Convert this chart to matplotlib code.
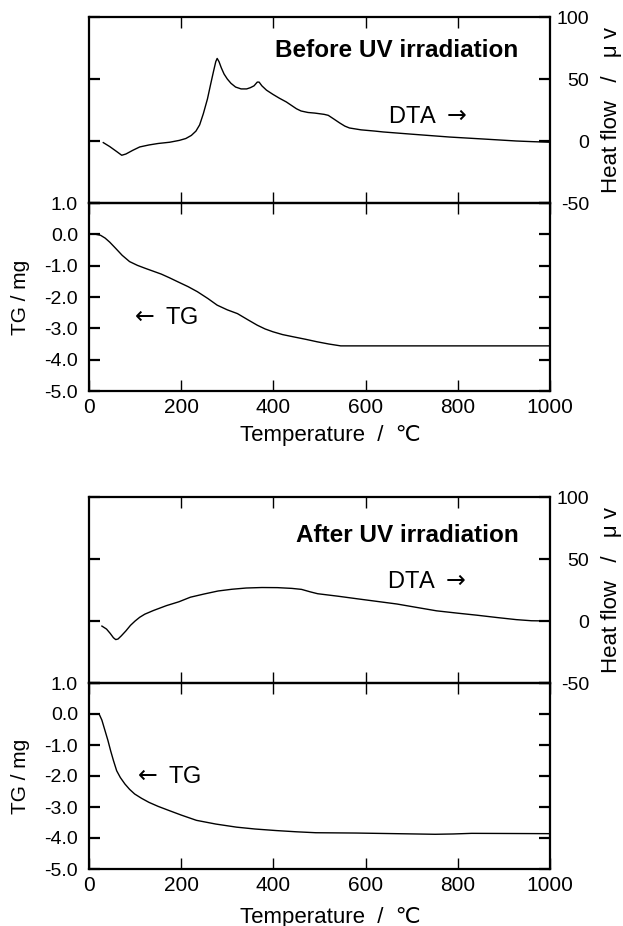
import numpy as np
import matplotlib
matplotlib.use("Agg")
import matplotlib.pyplot as plt

plt.rcParams["font.family"] = ["Liberation Sans", "DejaVu Sans"]
plt.rcParams["axes.unicode_minus"] = False

# before UV irradiation
before_dta_t = [31, 45, 60, 71, 80, 95, 110, 130, 150, 175, 196, 210, 222, 232,
                240, 248, 257, 264, 270, 275, 278, 282, 287, 293, 300, 308, 318,
                330, 342, 350, 358, 365, 369, 375, 385, 399, 413, 428, 440, 450,
                460, 475, 490, 500, 510, 519, 530, 544, 555, 565, 590, 620, 638,
                700, 782, 860, 927, 960, 984, 1000]
before_dta = [-1.3, -4.5, -8.5, -11.5, -10.5, -7.5, -4.8, -3.2, -2, -1, 0.5, 2,
              4.5, 8, 13, 22, 34, 46, 56, 64, 66.6, 64, 59, 54, 50, 46.5, 43.5,
              42, 42, 43, 44.5, 47.5, 47.5, 44.5, 41, 37.6, 34.5, 31.5, 28.5, 26,
              24.2, 23, 22.5, 22, 21.5, 20.7, 18, 14.5, 12, 10.5, 9, 8, 7.3, 5.5,
              3.2, 1.5, 0, -0.5, -0.8, -1.0]
before_tg_t = [15, 25, 35, 45, 58, 72, 88, 105, 123, 140, 157, 175, 192, 215,
               235, 258, 278, 300, 322, 345, 365, 382, 399, 420, 443, 470, 495,
               520, 546, 700, 1000]
before_tg = [0, -0.03, -0.12, -0.25, -0.45, -0.67, -0.87, -0.99, -1.09, -1.18,
             -1.27, -1.39, -1.51, -1.67, -1.83, -2.05, -2.26, -2.41, -2.53, -2.73,
             -2.9, -3.02, -3.11, -3.2, -3.27, -3.35, -3.43, -3.5, -3.56, -3.56,
             -3.56]

# after UV irradiation
after_dta_t = [28, 38, 46, 53, 58, 63, 70, 80, 90, 100, 110, 121, 140, 168, 195,
               220, 250, 280, 310, 341, 375, 409, 440, 461, 480, 496, 540, 582,
               625, 668, 710, 754, 800, 841, 885, 927, 960, 1000]
after_dta = [-4.1, -6.5, -10, -13.5, -15, -14.5, -12, -8, -3.5, 0, 3, 5.5, 8.5,
             12.4, 15.5, 19.2, 21.8, 24.2, 25.6, 26.6, 27, 26.9, 26.3, 25.5, 23.5,
             22, 20, 17.9, 15.8, 13.7, 11, 8.2, 6.3, 4.7, 2.8, 1.1, 0.2, 0]
after_tg_t = [22, 28, 35, 41, 47, 53, 60, 68, 78, 88, 99, 114, 130, 150, 173,
              200, 233, 275, 320, 360, 406, 450, 492, 579, 665, 751, 790, 830,
              1000]
after_tg = [0, -0.2, -0.55, -0.85, -1.19, -1.5, -1.83, -2.05, -2.26, -2.43, -2.58,
            -2.72, -2.85, -2.98, -3.11, -3.26, -3.43, -3.55, -3.65, -3.71, -3.76,
            -3.8, -3.83, -3.84, -3.86, -3.88, -3.87, -3.85, -3.86]

temp_ticks = [0, 200, 400, 600, 800, 1000]
temp_labels = ["0", "200", "400", "600", "800", "1000"]
dta_ticks = [-50, 0, 50, 100]
dta_labels = ["-50", "0", "50", "100"]
tg_ticks = [1, 0, -1, -2, -3, -4, -5]
tg_labels = ["1.0", "0.0", "-1.0", "-2.0", "-3.0", "-4.0", "-5.0"]

W, H = 623, 926


def panel(fig, y_top, y_mid, y_bot, dta_t, dta, tg_t, tg, title, title_x, title_y,
          dta_x, dta_y, tg_x, tg_y, xlabel_y):
    left = 89 / W
    width = (550 - 89) / W
    ax_d = fig.add_axes([left, 1 - y_mid / H, width, (y_mid - y_top) / H])
    ax_t = fig.add_axes([left, 1 - y_bot / H, width, (y_bot - y_mid) / H])

    for ax in (ax_d, ax_t):
        for s in ax.spines.values():
            s.set_linewidth(1.6)
        ax.set_xlim(0, 1000)
        ax.patch.set_alpha(0)

    ax_d.plot(dta_t, dta, color="black", lw=1.0)
    ax_d.set_ylim(-50, 100)
    ax_d.set_xticks(temp_ticks[1:-1])
    ax_d.tick_params(axis="x", direction="in", top=True, bottom=True,
                     labelbottom=False, length=8, width=1.0)
    ax_d.set_yticks(dta_ticks)
    ax_d.set_yticklabels(dta_labels)
    ax_d.tick_params(axis="y", direction="in", left=True, right=True,
                     labelleft=False, labelright=True, length=8, width=1.6,
                     labelsize=14, pad=28)
    for tk in ax_d.yaxis.get_major_ticks():
        tk.label2.set_horizontalalignment("right")

    ax_t.plot(tg_t, tg, color="black", lw=1.0)
    ax_t.set_ylim(-5, 1)
    ax_t.set_xticks(temp_ticks)
    ax_t.set_xticklabels(temp_labels)
    ax_t.tick_params(axis="x", direction="in", top=True, bottom=True,
                     length=8, width=1.0, labelsize=15, pad=5)
    ax_t.set_yticks(tg_ticks)
    ax_t.set_yticklabels(tg_labels)
    ax_t.tick_params(axis="y", direction="in", left=True, right=True,
                     length=8, width=1.6, labelsize=14, pad=8)

    ax_d.text(title_x, title_y, title, fontsize=17.5, fontweight="bold",
              ha="left", va="center")
    ax_d.text(dta_x, dta_y, r"DTA $\rightarrow$", fontsize=17, ha="left",
              va="center")
    ax_t.text(tg_x, tg_y, r"$\leftarrow$ TG", fontsize=17, ha="left",
              va="center")

    fig.text(611 / W, 1 - (y_top + y_mid) / 2 / H, "Heat flow   /   \u03bc v",
             rotation=90, fontsize=16, ha="center", va="center")
    fig.text(21 / W, 1 - (y_mid + y_bot) / 2 / H, "TG / mg",
             rotation=90, fontsize=15, ha="center", va="center")
    fig.text(330 / W, 1 - xlabel_y / H, "Temperature  /  \u2103",
             fontsize=16, ha="center", va="center")


def main():
    fig = plt.figure(figsize=(W / 100, H / 100), dpi=100)
    panel(fig, 17, 203, 391, before_dta_t, before_dta, before_tg_t, before_tg,
          "Before UV irradiation", 403, 72.6, 648, 19, 88, -2.66, 436)
    panel(fig, 497, 683, 869, after_dta_t, after_dta, after_tg_t, after_tg,
          "After UV irradiation", 450, 68.7, 647, 31.6, 95, -2.03, 917)
    fig.savefig("out.png", dpi=100)


if __name__ == "__main__":
    main()
